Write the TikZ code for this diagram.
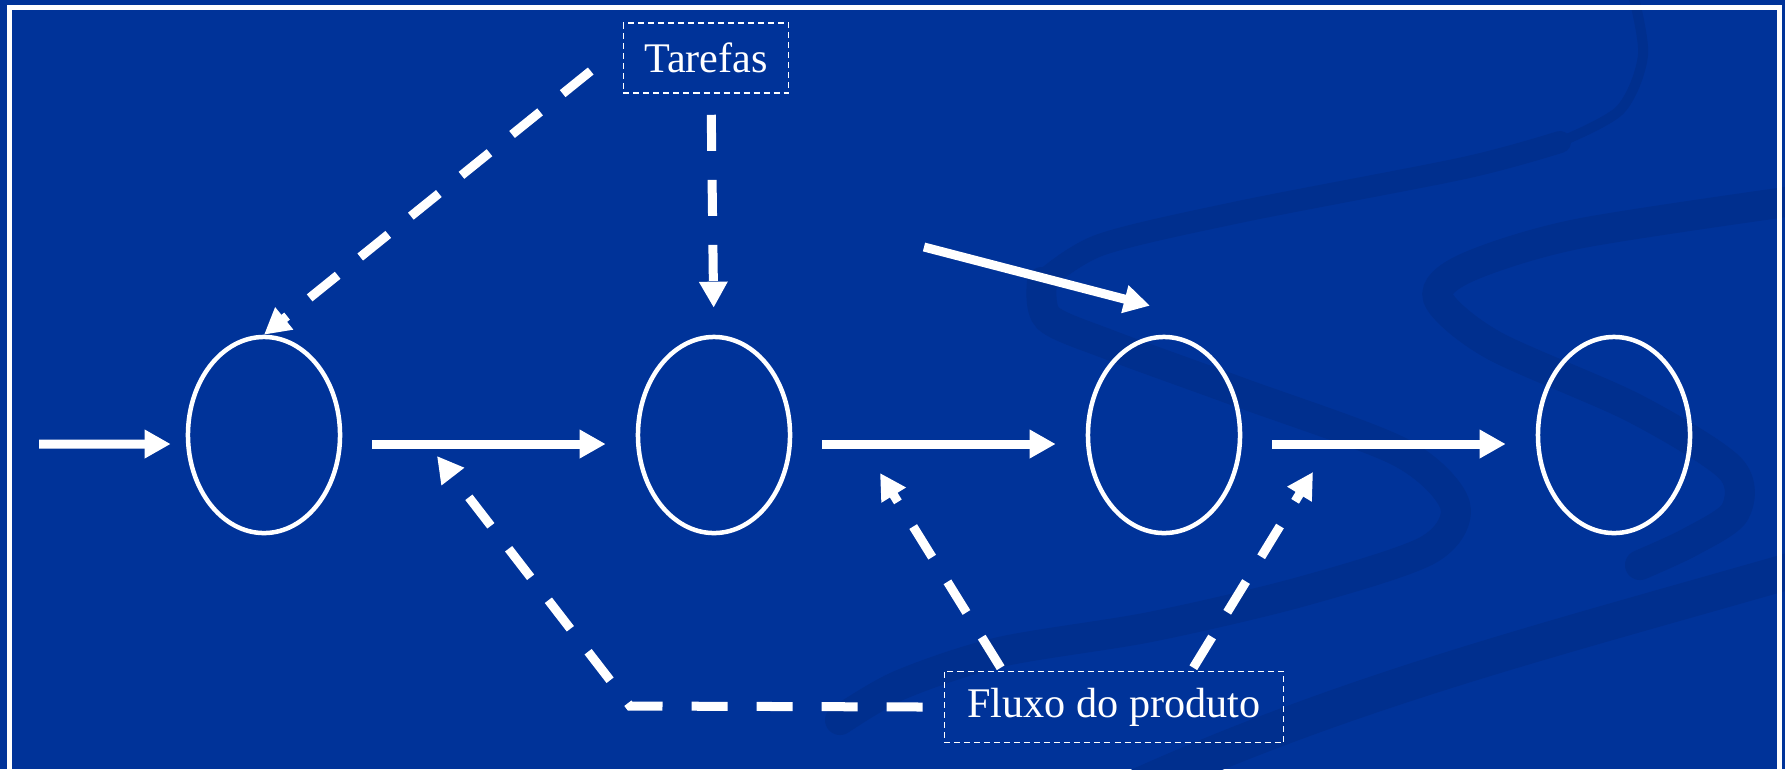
\documentclass[tikz,border=0pt]{standalone}
\usepackage{fontspec}
\setmainfont{Liberation Serif}
\usetikzlibrary{arrows.meta}
\usetikzlibrary{positioning}
\usetikzlibrary{shapes.geometric}
\usetikzlibrary{calc}
\definecolor{bgblue}{RGB}{0,51,153}
\definecolor{swirlblue}{RGB}{0,47,142}
\tikzset{
  stage/.style={draw=white, line width=0.045cm, ellipse, inner sep=0pt,
                minimum width=1.52cm, minimum height=1.96cm},
  labelbox/.style={draw=white, line width=0.015cm, dash pattern=on 0.06cm off 0.04cm,
                   text=white, font=\fontsize{12}{14}\selectfont, inner sep=0pt,
                   minimum height=0.7cm},
  flow/.style={draw=white, line width=0.09cm, -{Triangle[length=0.26cm,width=0.27cm]}},
  dashflow/.style={flow, dash pattern=on 0.36cm off 0.29cm},
  swirl/.style={draw=swirlblue, line width=0.3cm, line cap=round},
}

\begin{document}
\begin{tikzpicture}[x=0.01cm, y=-0.01cm]
    \useasboundingbox (0,0) rectangle (1785,769);
    \clip (0,0) rectangle (1785,769);
    \fill[bgblue] (0,0) rectangle (1785,769);

    % background ribbons
    \draw[swirl, line width=0.1cm] plot[smooth] coordinates {(1632,-10) (1643,55) (1620,110) (1560,142)};
    \draw[swirl, line width=0.22cm] plot[smooth] coordinates {(1560,142) (1464,168) (1239,212) (1100,245) (1042,282)};
    \draw[swirl] plot[smooth] coordinates {(1042,282)
        (1048,318) (1110,345) (1239,392) (1400,452) (1455,505) (1428,550) (1300,592) (1150,627)
        (1000,652) (900,685) (840,720)};
    \draw[swirl] plot[smooth] coordinates {(1800,200) (1577,234) (1466,268) (1438,298) (1493,345)
        (1634,408) (1730,468) (1735,512) (1690,542) (1640,565)};
    \draw[swirl, line width=0.36cm, line cap=butt] (1800,568) .. controls (1550,640) and (1350,690) .. (1130,790);

    \draw[white, line width=0.05cm] (9.5,7.5) rectangle (1779,800);

    % stages
    \foreach \i/\x in {1/264,2/714,3/1164,4/1614}
        \node[stage] (e\i) at (\x,435) {};

    \node[labelbox, minimum width=1.65cm] (tasks) at (706,58) {Tarefas};
    \node[labelbox, minimum width=3.39cm, minimum height=0.71cm] (product) at (1114,707) {Fluxo do produto};

    \coordinate (in) at (39,444);
    \coordinate (ext) at (924,247);
    \coordinate (bend) at (630,706);
    \coordinate (tipA) at (437,456);
    \coordinate (tipB) at (880,473);
    \coordinate (tipC) at (1313,472);

    \draw[flow, shorten >=0.15cm] (in) -- ([yshift=-0.09cm]e1.west);
    \foreach \a/\b in {e1/e2,e2/e3,e3/e4}
        \draw[flow, shorten <=0.3cm, shorten >=0.3cm] ([yshift=-0.09cm]\a.east) -- ([yshift=-0.09cm]\b.west);
    \draw[flow] (ext) -- ($(e3.north)+(-14,-29)$);

    \draw[dashflow] ($(tasks.west)+(-32,13)$) -- (e1.north);
    \draw[dashflow, shorten <=0.21cm, shorten >=0.27cm] ([xshift=0.05cm]tasks.south) -- (e2.north);

    \draw[dashflow] ([xshift=-0.21cm]product.west) -- (bend) -- (tipA);
    \draw[dashflow] ([xshift=0.57cm,yshift=0.03cm]product.north west) -- (tipB);
    \draw[dashflow] ([xshift=-0.91cm,yshift=0.03cm]product.north east) -- (tipC);
\end{tikzpicture}
\end{document}
